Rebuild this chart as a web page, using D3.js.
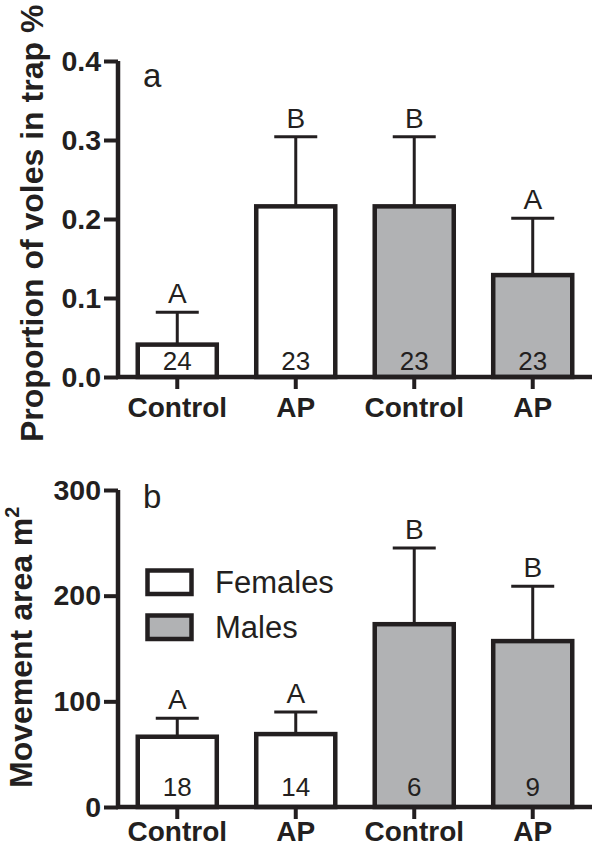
<!DOCTYPE html>
<html>
<head>
<meta charset="utf-8">
<script src="https://cdn.jsdelivr.net/npm/d3@7"></script>
<style>
  html, body { margin: 0; padding: 0; background: #fff; }
  svg { display: block; font-family: "Liberation Sans", Arial, Helvetica, sans-serif; }
</style>
</head>
<body>
<svg id="chart" width="596" height="847"></svg>
<script>
// ---- data ----
const groups = ["F-Control", "F-AP", "M-Control", "M-AP"];
const xLabels = ["Control", "AP", "Control", "AP"];
const sexes = ["Females", "Females", "Males", "Males"];
const legendLabels = ["Females", "Males"];

const trapMean = [0.041, 0.216, 0.216, 0.129];
const trapSE = [0.041, 0.088, 0.088, 0.072];
const trapLetters = ["A", "B", "B", "A"];
const trapN = ["24", "23", "23", "23"];
const trapTicks = [0, 0.1, 0.2, 0.3, 0.4];

const areaMean = [66.5, 69, 173, 157];
const areaSE = [17.5, 21, 72, 52];
const areaLetters = ["A", "A", "B", "B"];
const areaN = ["18", "14", "6", "9"];
const areaTicks = [0, 100, 200, 300];

// ---- style ----
const INK = "#231f20";
const fillFor = d3.scaleOrdinal().domain(legendLabels).range(["#ffffff", "#b1b2b4"]);
const svg = d3.select("#chart");

function panel(opts) {
  const x = d3.scaleBand().domain(groups).range([118, 592]).paddingInner(0.333).paddingOuter(0.1667);
  const y = d3.scaleLinear().domain([0, opts.max]).range([opts.y0, opts.yTop]);
  const g = svg.append("g");

  // bars
  g.selectAll("rect.bar").data(groups).join("rect")
    .attr("class", "bar")
    .attr("x", d => x(d))
    .attr("width", x.bandwidth())
    .attr("y", (d, i) => y(opts.mean[i]))
    .attr("height", (d, i) => y(0) - y(opts.mean[i]))
    .attr("fill", (d, i) => fillFor(sexes[i]))
    .attr("stroke", INK).attr("stroke-width", 4.5);

  // error bars
  const cx = d => x(d) + x.bandwidth() / 2;
  g.selectAll("line.err").data(groups).join("line")
    .attr("x1", cx).attr("x2", cx)
    .attr("y1", (d, i) => y(opts.mean[i]))
    .attr("y2", (d, i) => y(opts.mean[i] + opts.se[i]))
    .attr("stroke", INK).attr("stroke-width", 3);
  g.selectAll("line.cap").data(groups).join("line")
    .attr("x1", d => cx(d) - 21.5).attr("x2", d => cx(d) + 21.5)
    .attr("y1", (d, i) => y(opts.mean[i] + opts.se[i]))
    .attr("y2", (d, i) => y(opts.mean[i] + opts.se[i]))
    .attr("stroke", INK).attr("stroke-width", 3);

  // significance letters
  g.selectAll("text.sig").data(groups).join("text")
    .attr("x", cx)
    .attr("y", (d, i) => y(opts.mean[i] + opts.se[i]) - 9)
    .attr("text-anchor", "middle")
    .attr("font-size", 28).attr("fill", INK)
    .text((d, i) => opts.letters[i]);

  // sample sizes
  g.selectAll("text.n").data(groups).join("text")
    .attr("x", cx)
    .attr("y", y(0) - opts.nOff)
    .attr("text-anchor", "middle")
    .attr("font-size", 26).attr("fill", INK)
    .text((d, i) => opts.n[i]);

  // y axis
  const ya = g.append("g").attr("transform", "translate(118,0)")
    .call(d3.axisLeft(y).tickValues(opts.ticks).tickFormat(opts.fmt).tickSize(14).tickPadding(3).tickSizeOuter(0));
  ya.select(".domain").attr("stroke", INK).attr("stroke-width", 4.5)
    .attr("d", `M0,${y(opts.max)}V${y(0) + 2}`);
  ya.selectAll(".tick line").attr("stroke", INK).attr("stroke-width", 4);
  ya.selectAll(".tick text").attr("fill", INK).attr("font-size", 28.5).attr("font-weight", "bold")
    .attr("font-family", "Liberation Sans, Arial, sans-serif");

  // x axis
  const xa = g.append("g").attr("transform", `translate(0,${y(0)})`)
    .call(d3.axisBottom(x).tickFormat((d, i) => xLabels[i]).tickSize(12).tickSizeOuter(0));
  xa.select(".domain").attr("stroke", INK).attr("stroke-width", 4.5)
    .attr("d", "M116,0H592");
  xa.selectAll(".tick line").attr("stroke", INK).attr("stroke-width", 4);
  xa.selectAll(".tick text").attr("fill", INK).attr("font-size", 28).attr("font-weight", "bold")
    .attr("font-family", "Liberation Sans, Arial, sans-serif")
    .attr("y", opts.labOff).attr("dy", 0);

  // panel letter
  g.append("text").attr("x", 143).attr("y", opts.letterY)
    .attr("font-size", 33).attr("fill", INK).text(opts.panel);

  // y title
  const t = g.append("text")
    .attr("transform", `translate(${opts.titleX},${opts.titleY}) rotate(-90)`)
    .attr("font-size", opts.titleSize).attr("font-weight", "bold").attr("fill", INK)
    .attr("text-anchor", "start");
  t.append("tspan").text(opts.title);
  if (opts.sup) {
    t.append("tspan").attr("font-size", 20).attr("dy", -13).text(opts.sup);
  }
  return { g, x, y };
}

panel({
  mean: trapMean, se: trapSE, letters: trapLetters, n: trapN,
  ticks: trapTicks, fmt: d3.format(".1f"), max: 0.4,
  y0: 377, yTop: 61, nOff: 7, labOff: 40,
  panel: "a", letterY: 87,
  title: "Proportion of voles in trap %", titleX: 43, titleY: 442, titleSize: 32
});

panel({
  mean: areaMean, se: areaSE, letters: areaLetters, n: areaN,
  ticks: areaTicks, fmt: d3.format("d"), max: 300,
  y0: 807, yTop: 490, nOff: 11, labOff: 34,
  panel: "b", letterY: 508,
  title: "Movement area m", sup: "2", titleX: 32, titleY: 788, titleSize: 32
});

// legend
const leg = svg.append("g");
leg.selectAll("rect").data(legendLabels).join("rect")
  .attr("x", 147.5).attr("y", (d, i) => 570.5 + i * 45)
  .attr("width", 44).attr("height", 23.5)
  .attr("fill", d => fillFor(d)).attr("stroke", INK).attr("stroke-width", 4.5);
leg.selectAll("text").data(legendLabels).join("text")
  .attr("x", 215).attr("y", (d, i) => 593 + i * 45)
  .attr("font-size", 31).attr("fill", INK).text(d => d);
</script>
</body>
</html>
